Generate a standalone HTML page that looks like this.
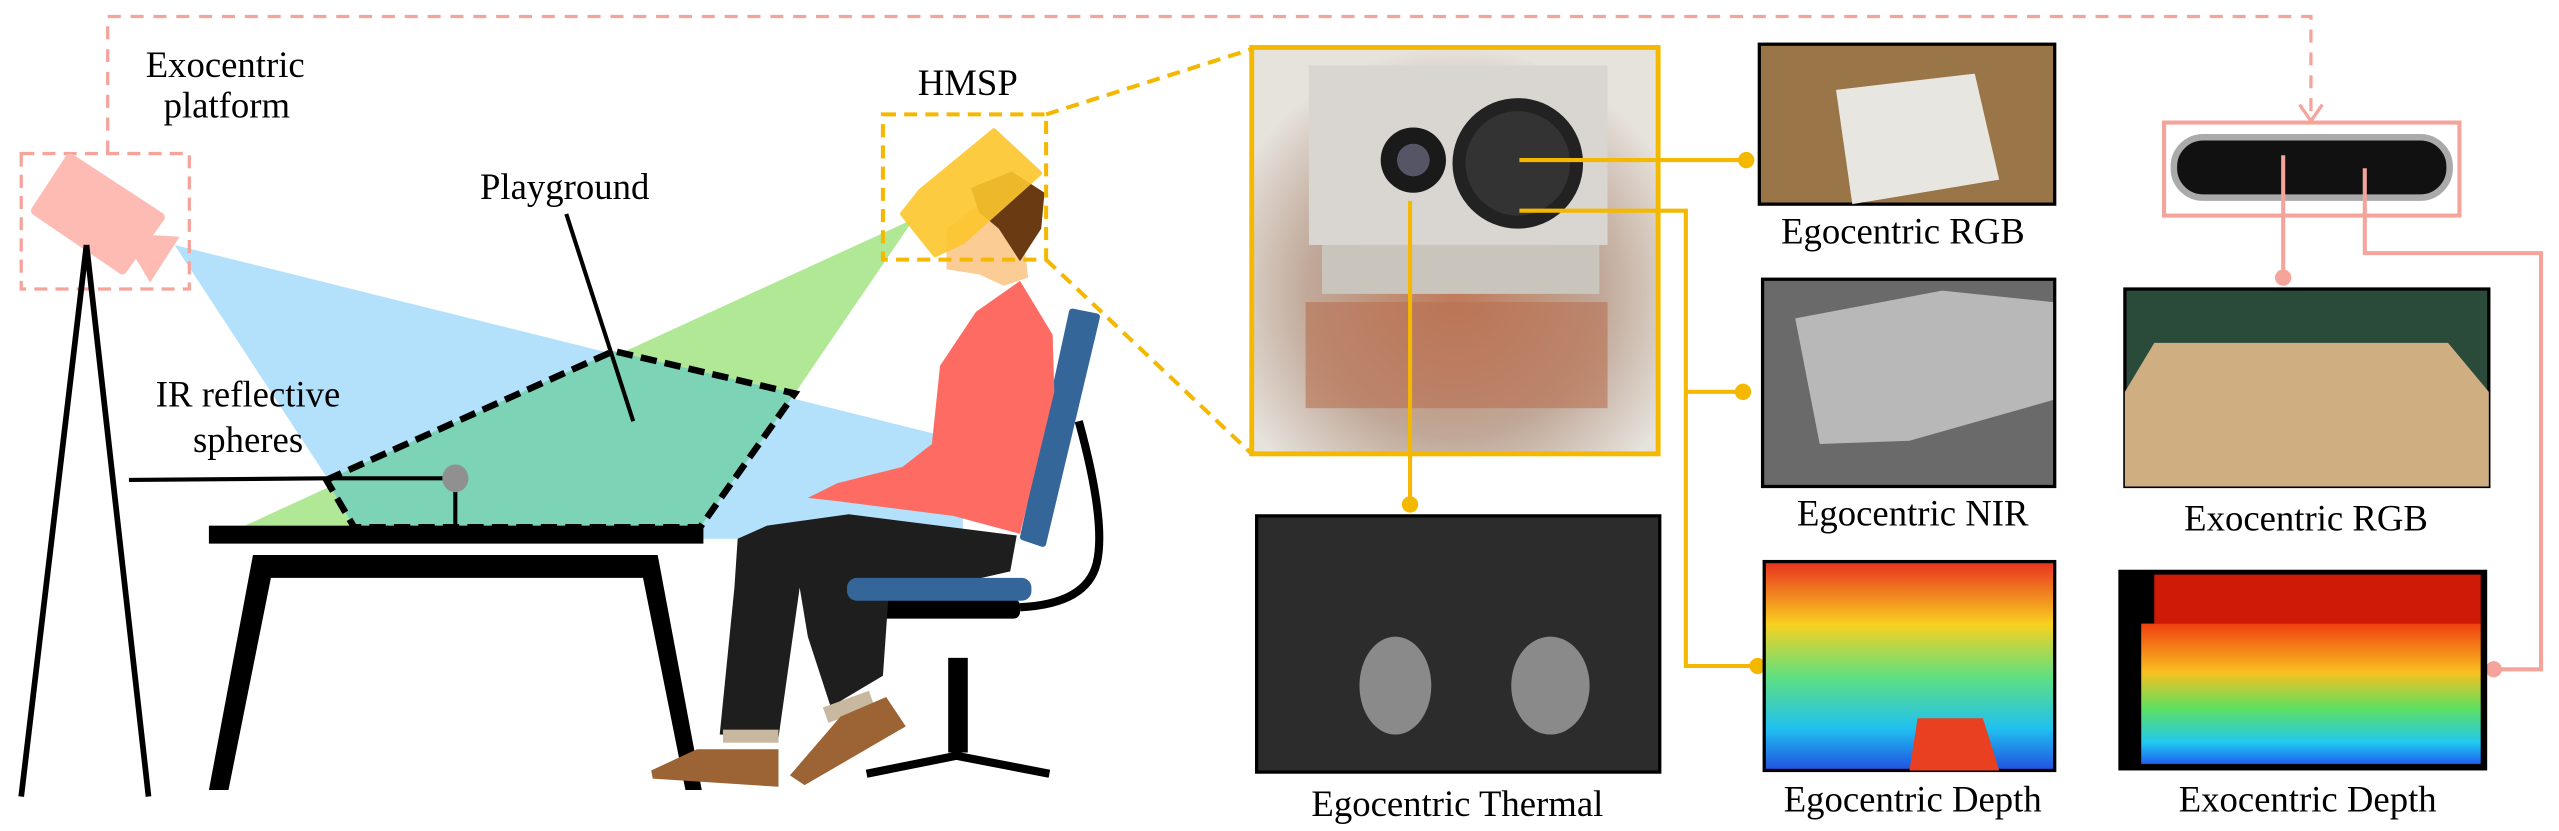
<!DOCTYPE html>
<html><head><meta charset="utf-8"><style>
html,body{margin:0;padding:0;background:#fff;}
svg{display:block;}
svg text{font-family:"Liberation Serif","Times New Roman","DejaVu Serif",serif !important;font-size:22.5px;fill:#000;text-anchor:middle;}
</style></head><body>
<svg width="2559" height="831" viewBox="0 0 1568 509" xmlns="http://www.w3.org/2000/svg">
<defs>
<linearGradient id="dep" x1="0" y1="0" x2="0" y2="1">
<stop offset="0" stop-color="#e83020"/><stop offset="0.3" stop-color="#f8d020"/><stop offset="0.55" stop-color="#60e080"/><stop offset="0.8" stop-color="#20c0f0"/><stop offset="1" stop-color="#2050e0"/></linearGradient>
<linearGradient id="dep2" x1="0" y1="0" x2="0" y2="1">
<stop offset="0" stop-color="#f04010"/><stop offset="0.35" stop-color="#f8c020"/><stop offset="0.6" stop-color="#60e060"/><stop offset="0.85" stop-color="#20c8f0"/><stop offset="1" stop-color="#2060f0"/></linearGradient>
<radialGradient id="blur" cx="0.5" cy="0.6" r="0.6"><stop offset="0" stop-color="#c07a5a"/><stop offset="0.6" stop-color="#c0a898"/><stop offset="1" stop-color="#e6e2dc"/></radialGradient>
</defs>

<path d="M66,94 V10 H1416 V70" fill="none" stroke="#f5a49b" stroke-width="2" stroke-dasharray="8,6"/>
<path d="M1409,64 L1416,74 L1423,64" fill="none" stroke="#f5a49b" stroke-width="2"/>
<text x="138" y="47">Exocentric</text>
<text x="139" y="72">platform</text>

<polygon points="107,150 590,270 590,330 430,330 200,292" fill="#b3e0fb"/>
<polygon points="560,134 487,241 429,323 150,322" fill="#b0e895"/>
<polygon points="200,294 376,215 487,241 429,323 217,323" fill="#7dd3b6" stroke="#000" stroke-width="4" stroke-dasharray="10,5"/>
<line x1="347" y1="131" x2="388" y2="258" stroke="#000" stroke-width="2.5"/>
<text x="346" y="122">Playground</text>

<rect x="13" y="94" width="103" height="83" fill="none" stroke="#f5a49b" stroke-width="2" stroke-dasharray="8,5"/>
<g fill="#fdbbb3">
<polygon points="22,129 43,97 98,133 75,165" stroke="#fdbbb3" stroke-width="6" stroke-linejoin="round"/><polygon points="93,144 110,145 92,173 83,158"/></g>
<g stroke="#000" stroke-width="3.5">
<line x1="53" y1="150" x2="13" y2="488"/><line x1="53" y1="150" x2="91" y2="488"/></g>

<text x="152" y="249">IR reflective</text>
<text x="152" y="277">spheres</text>
<path d="M79,294 L200,293 L275,293" fill="none" stroke="#000" stroke-width="2.5"/>
<line x1="279" y1="295" x2="279" y2="323" stroke="#000" stroke-width="2.5"/>
<ellipse cx="279" cy="293" rx="8" ry="8.5" fill="#909090"/>

<g fill="#000">
<rect x="128" y="322" width="303" height="11"/>
<path d="M155,340 H403 L430,484 H420 L394,354 H166 L140,484 H128 Z"/></g>

<g>
<polygon points="657,191 672,194 639,333 627,329" fill="#356699" stroke="#356699" stroke-width="4" stroke-linejoin="round"/>
<path d="M661,258 Q678,320 672,345 Q666,370 625,372" fill="none" stroke="#000" stroke-width="5"/>
<rect x="535" y="367" width="90" height="12" rx="4" fill="#000"/>
<rect x="581" y="403" width="12" height="58" fill="#000"/>
<path d="M531,474 L586,463 L643,474" fill="none" stroke="#000" stroke-width="5"/>
</g>

<g>
<polygon points="598,191 625,172 645,205 646,240 625,327 584,316 513,307 495,305 513,296 553,286 571,272 576,224" fill="#fd6b63"/>
<polygon points="452,330 470,322 520,315 623,328 619,350 584,358 545,357 541,414 509,433 495,390 490,360 477,452 441,450 450,360" fill="#1e1e1e"/>
<rect x="519" y="354" width="113" height="14" rx="6" fill="#356699"/>
<rect x="443" y="447" width="34" height="8" fill="#c8b8a0"/>
<rect x="505" y="428" width="30" height="10" fill="#c8b8a0" transform="rotate(-20 520 433)"/>
<polygon points="399,472 427,459 477,459 477,482 400,477" fill="#9c6434"/>
<polygon points="484,475 515,439 543,427 555,445 493,481" fill="#9c6434"/>
<polygon points="580,140 600,125 625,130 630,170 615,175 600,168 580,165" fill="#fccc95"/>
<polygon points="595,115 620,105 640,118 638,140 625,160 612,140 600,130" fill="#6a3a12"/>
<polygon points="564,117 609,80 637,106 590,148 573,156 553,131" fill="#fcc62c" opacity="0.9" stroke="#fcc62c" stroke-width="3" stroke-linejoin="round"/>
</g>

<text x="593" y="58">HMSP</text>
<rect x="541" y="70" width="100" height="89" fill="none" stroke="#f5b800" stroke-width="2.5" stroke-dasharray="8,5"/>
<line x1="641" y1="70" x2="767" y2="30" stroke="#f5b800" stroke-width="2.5" stroke-dasharray="8,5"/>
<line x1="641" y1="159" x2="767" y2="278" stroke="#f5b800" stroke-width="2.5" stroke-dasharray="8,5"/>

<g>
<rect x="767" y="29" width="249" height="249" fill="url(#blur)"/>
<rect x="802" y="40" width="183" height="110" fill="#d9d6d2"/>
<rect x="810" y="150" width="170" height="30" fill="#c9c4bc"/>
<rect x="800" y="185" width="185" height="65" fill="#b87050" opacity="0.6"/>
<circle cx="866" cy="98" r="20" fill="#1a1a1a"/><circle cx="866" cy="98" r="10" fill="#556"/>
<circle cx="930" cy="100" r="40" fill="#222"/><circle cx="930" cy="100" r="32" fill="#333"/>
<rect x="767" y="29" width="249" height="249" fill="none" stroke="#f5b800" stroke-width="3"/>
</g>

<g stroke="#f5b800" stroke-width="2.5" fill="none">
<path d="M931,98 H1070"/><path d="M931,129 H1033 V408 H1077"/><path d="M1033,240 H1068"/><path d="M864,123 V309"/></g>
<g fill="#f5b800"><circle cx="1070" cy="98" r="5"/><circle cx="1068" cy="240" r="5"/><circle cx="1077" cy="408" r="5"/><circle cx="864" cy="309" r="5"/></g>

<g><rect x="1078" y="27" width="181" height="98" fill="#9a7548" stroke="#000" stroke-width="2"/><polygon points="1125,55 1210,45 1225,110 1135,125" fill="#e8e6e0"/></g>
<text x="1166" y="149">Egocentric RGB</text>
<g><rect x="1080" y="171" width="179" height="127" fill="#6a6a6a" stroke="#000" stroke-width="2"/><polygon points="1100,195 1190,178 1258,185 1258,245 1170,270 1115,272" fill="#b8b8b8"/></g>
<text x="1172" y="322">Egocentric NIR</text>
<g><rect x="1081" y="344" width="178" height="128" fill="url(#dep)" stroke="#000" stroke-width="2"/><polygon points="1175,440 1215,440 1225,472 1170,472" fill="#e84020"/></g>
<text x="1172" y="497">Egocentric Depth</text>
<g><rect x="770" y="316" width="247" height="157" fill="#2c2c2c" stroke="#000" stroke-width="2"/><ellipse cx="855" cy="420" rx="22" ry="30" fill="#8a8a8a"/><ellipse cx="950" cy="420" rx="24" ry="30" fill="#8a8a8a"/></g>
<text x="893" y="500">Egocentric Thermal</text>

<rect x="1326" y="75" width="181" height="57" fill="none" stroke="#f5a49b" stroke-width="2.5"/>
<rect x="1332" y="84" width="169" height="37" rx="18" fill="#111" stroke="#aaa" stroke-width="4"/>
<g stroke="#f5a49b" stroke-width="2.5" fill="none"><path d="M1399,95 V170"/><path d="M1449,103 V155 H1557 V410 H1528"/></g>
<g fill="#f5a49b"><circle cx="1399" cy="170" r="5"/><circle cx="1528" cy="410" r="5"/></g>
<g><rect x="1302" y="177" width="223" height="121" fill="#2a4a3a" stroke="#000" stroke-width="2"/><polygon points="1320,210 1500,210 1525,240 1525,298 1302,298 1302,240" fill="#cfae82"/></g>
<text x="1413" y="325">Exocentric RGB</text>
<g><rect x="1299" y="350" width="224" height="121" fill="#000" stroke="#000" stroke-width="2"/><rect x="1320" y="352" width="200" height="30" fill="#d01a08"/><rect x="1312" y="382" width="208" height="86" fill="url(#dep2)"/></g>
<text x="1414" y="497">Exocentric Depth</text>
</svg>
</body></html>
